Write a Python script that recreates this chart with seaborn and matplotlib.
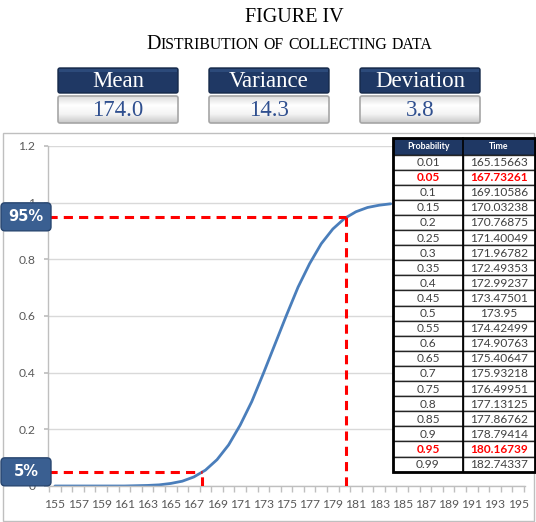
import matplotlib.pyplot as plt
import numpy as np
import pandas as pd
import seaborn as sns
from matplotlib.colors import LinearSegmentedColormap
from matplotlib.patches import FancyBboxPatch, Rectangle

# cumulative probability
TIME = list(range(155, 185))
CDF = [0.000, 0.000, 0.000, 0.000, 0.000, 0.000, 0.000, 0.001, 0.002, 0.004,
       0.009, 0.017, 0.032, 0.056, 0.093, 0.145, 0.215, 0.298, 0.397, 0.500,
       0.603, 0.702, 0.785, 0.855, 0.907, 0.944, 0.968, 0.983, 0.991, 0.996]
X_TICKS = list(range(155, 196, 2))
Y_TICKS = [0, 0.2, 0.4, 0.6, 0.8, 1, 1.2]

STAT_NAMES = ["Mean", "Variance", "Deviation"]
STAT_VALUES = ["174.0", "14.3", "3.8"]

PROB = ["0.01", "0.05", "0.1", "0.15", "0.2", "0.25", "0.3", "0.35", "0.4",
        "0.45", "0.5", "0.55", "0.6", "0.65", "0.7", "0.75", "0.8", "0.85",
        "0.9", "0.95", "0.99"]
PROB_TIME = ["165.15663", "167.73261", "169.10586", "170.03238", "170.76875",
             "171.40049", "171.96782", "172.49353", "172.99237", "173.47501",
             "173.95", "174.42499", "174.90763", "175.40647", "175.93218",
             "176.49951", "177.13125", "177.86762", "178.79414", "180.16739",
             "182.74337"]
HIGHLIGHT = ["0.05", "0.95"]

MARK_PROBS = [0.05, 0.95]
MARK_TIMES = [167.73261, 180.16739]
MARK_LABELS = ["5%", "95%"]

NAVY = "#1f3864"
BADGE = "#3a5f91"
LINE = "#4a7ebb"
RED = "#ff0000"

sns.set_theme(style="white")
plt.rcParams["font.family"] = ["Lato", "DejaVu Sans"]

W, H = 536, 522
fig = plt.figure(figsize=(W / 100, H / 100), dpi=100)

ax = fig.add_axes([48 / W, 1 - 486 / H, 477 / W, 340 / H])
df = pd.DataFrame({"time": TIME, "p": CDF})
sns.lineplot(data=df, x="time", y="p", color=LINE, lw=2, ax=ax)
ax.set_xlim(154.4, 195.6)
ax.set_ylim(0, 1.2)
ax.set_xticks(X_TICKS)
ax.set_xticklabels([str(v) for v in X_TICKS])
ax.set_xticks(np.arange(154.5, 196, 1), minor=True)
ax.set_yticks(Y_TICKS)
ax.set_yticklabels(["0", "0.2", "0.4", "0.6", "0.8", "1", "1.2"])
ax.tick_params(axis="x", which="major", length=0, pad=9, labelsize=8.7,
               labelcolor="#595959")
ax.tick_params(axis="x", which="minor", length=4, color="#bfbfbf",
               direction="out", bottom=True)
ax.tick_params(axis="y", length=3, color="#bfbfbf", left=True, labelsize=8.7,
               labelcolor="#595959", pad=6)
ax.yaxis.grid(True, color="#d9d9d9", lw=1)
ax.set_xlabel("")
ax.set_ylabel("")
for side in ["top", "right"]:
    ax.spines[side].set_visible(False)
for side in ["left", "bottom"]:
    ax.spines[side].set_color("#bfbfbf")
    ax.spines[side].set_linewidth(1)

# dashed guides for the 5% / 95% quantiles
for p, t in zip(MARK_PROBS, MARK_TIMES):
    ax.plot([154.4, t], [p, p], color=RED, ls=(0, (3, 2)), lw=2.2, zorder=4)
    ax.plot([t, t], [0, p], color=RED, ls=(0, (3, 2)), lw=2.2, zorder=4)

fig.canvas.draw()
renderer = fig.canvas.get_renderer()

# overlay in pixel coordinates for the decorations
ov = fig.add_axes([0, 0, 1, 1], zorder=5)
ov.set_xlim(0, W)
ov.set_ylim(H, 0)
ov.axis("off")
ov.patch.set_alpha(0)

ov.add_patch(Rectangle((3, 133), 531, 388, fill=False, ec="#bfbfbf", lw=1,
                       zorder=0))

serif = ["Liberation Serif", "DejaVu Serif"]
ov.text(294, 18, "FIGURE IV", ha="center", va="center", fontsize=14.5,
        family=serif, color="black")

# small caps subtitle
x = 146
for word in ["DISTRIBUTION", "OF", "COLLECTING", "DATA"]:
    big = word[0] if word == "DISTRIBUTION" else ""
    rest = word[1:] if big else word
    if big:
        t = ov.text(x, 49, big, ha="left", va="baseline", fontsize=14.5,
                    family=serif, color="black")
        x += t.get_window_extent(renderer).width
    t = ov.text(x, 49, rest, ha="left", va="baseline", fontsize=11.3,
                family=serif, color="black")
    x += t.get_window_extent(renderer).width + 4.5

# stat boxes
box_cmap = LinearSegmentedColormap.from_list(
    "box", ["#dcdcdc", "#ffffff", "#f4f4f4", "#c8c8c8"])
grad = np.linspace(0, 1, 60).reshape(-1, 1)
for i, (name, val) in enumerate(zip(STAT_NAMES, STAT_VALUES)):
    x0 = 58 + i * 151
    w = 120
    ov.add_patch(FancyBboxPatch((x0, 68), w, 25, boxstyle="round,pad=0,rounding_size=2",
                                fc=NAVY, ec="#15294a", lw=1))
    ov.add_patch(Rectangle((x0 + 1, 69), w - 2, 3, fc="#2c4a7a", ec="none"))
    ov.text(x0 + w / 2, 81.5, name, ha="center", va="center", fontsize=16.5,
            family=serif, color="white")
    ov.imshow(grad, extent=(x0, x0 + w, 123, 96), cmap=box_cmap,
              aspect="auto", zorder=1)
    ov.add_patch(FancyBboxPatch((x0, 96), w, 27, boxstyle="round,pad=0,rounding_size=2",
                                fill=False, ec="#a6a6a6", lw=1.2, zorder=2))
    ov.text(x0 + w / 2, 110, val, ha="center", va="center", fontsize=16.5,
            family=serif, color="#2f4f8f", zorder=3)
ov.set_xlim(0, W)
ov.set_ylim(H, 0)

# quantile badges on the left
for p, lab in zip(MARK_PROBS, MARK_LABELS):
    yp = H - ax.transData.transform((155, p))[1]
    ov.add_patch(FancyBboxPatch((1, yp - 14), 50, 28,
                                boxstyle="round,pad=0,rounding_size=4",
                                fc=BADGE, ec="#284670", lw=1, zorder=6))
    ov.text(26, yp, lab, ha="center", va="center", fontsize=10.5,
            fontweight="bold", color="white", family=["DejaVu Sans"], zorder=7)

# probability table
tx0, tx1, tx2 = 393, 463, 535
ty0, hdr, row = 138, 16.5, 15.1
ov.add_patch(Rectangle((tx0, ty0), tx2 - tx0, hdr, fc=NAVY, ec="black", lw=1,
                       zorder=6))
ov.text((tx0 + tx1) / 2, ty0 + hdr / 2, "Probability", ha="center",
        va="center", fontsize=6.3, fontweight="bold", color="white", zorder=7)
ov.text((tx1 + tx2) / 2, ty0 + hdr / 2, "Time", ha="center", va="center",
        fontsize=6.3, fontweight="bold", color="white", zorder=7)
for i, (p, t) in enumerate(zip(PROB, PROB_TIME)):
    y = ty0 + hdr + i * row
    for xa, xb in [(tx0, tx1), (tx1, tx2)]:
        ov.add_patch(Rectangle((xa, y), xb - xa, row, fc="white", ec="#262626",
                               lw=1, zorder=6))
    hot = p in HIGHLIGHT
    kw = dict(ha="center", va="center", fontsize=8.6, zorder=7,
              color=RED if hot else "#404040",
              fontweight="bold" if hot else "normal")
    ov.text((tx0 + tx1) / 2, y + row / 2 + 0.5, p, **kw)
    ov.text((tx1 + tx2) / 2, y + row / 2 + 0.5, t, **kw)
ov.add_patch(Rectangle((tx0, ty0), tx2 - tx0, hdr + len(PROB) * row,
                       fill=False, ec="black", lw=2, zorder=8))
ov.plot([tx1, tx1], [ty0, ty0 + hdr + len(PROB) * row], color="black", lw=1.2,
        zorder=8)

fig.savefig("out.png", dpi=100, facecolor="white")
